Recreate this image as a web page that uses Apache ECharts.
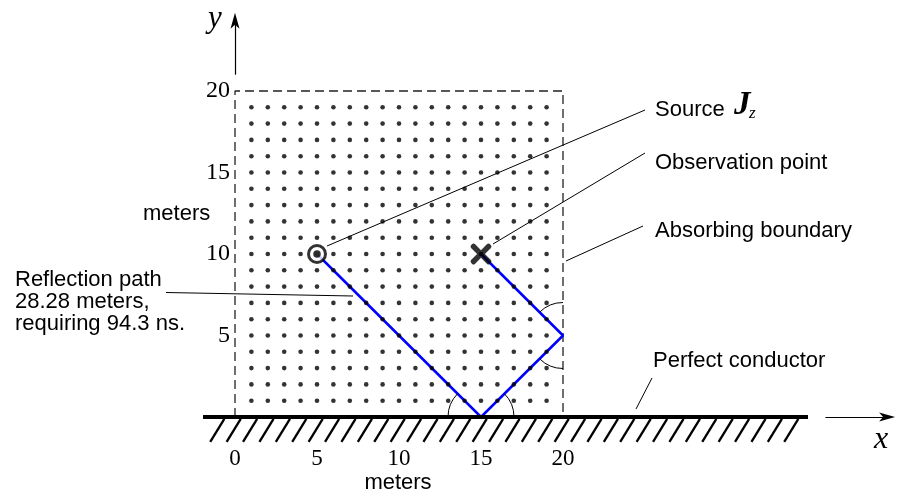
<!DOCTYPE html>
<html>
<head>
<meta charset="utf-8">
<script src="https://cdn.jsdelivr.net/npm/echarts@6/dist/echarts.min.js"></script>
<style>
  html, body { margin: 0; padding: 0; background: #fff; }
  #chart { width: 900px; height: 495px; }
</style>
</head>
<body>
<div id="chart"></div>
<script>
// Simulation grid sample positions (meters)
const gridCols = [1, 2, 3, 4, 5, 6, 7, 8, 9, 10, 11, 12, 13, 14, 15, 16, 17, 18, 19];
const gridRows = [1, 2, 3, 4, 5, 6, 7, 8, 9, 10, 11, 12, 13, 14, 15, 16, 17, 18, 19];

// Absorbing boundary of the computational region
const boundaryX = [0, 0, 20, 20];
const boundaryY = [0, 20, 20, 0];

// Reflection path: source -> conductor -> right boundary -> observation point
const pathX = [5, 15, 20, 15];
const pathY = [10, 0, 5, 10];

const sourcePoint = [5, 10];
const observationPoint = [15, 10];

// Axis tick labels
const xTickValues = [0, 5, 10, 15, 20];
const yTickValues = [5, 10, 15, 20];

// Ground plane and axis arrows (meters)
const groundExtent = [-1.95, 34.94];
const hatchStart = -0.65;
const hatchCount = 36;
const xArrowExtent = [36, 40.25];
const yArrowExtent = [21, 24.8];

// Path annotation values
const pathLengthMeters = 28.28;
const pathDelayNs = 94.3;

const SANS = 'Liberation Sans';
const SERIF = 'Liberation Serif';

const chart = echarts.init(document.getElementById('chart'), null, { renderer: 'canvas' });

const dots = [];
gridCols.forEach(x => gridRows.forEach(y => dots.push([x, y])));

const hatches = [];
for (let k = 0; k < hatchCount; k++) {
  const top = hatchStart + k;
  hatches.push({ coords: [[top, -0.12], [top - 0.86, -1.53]] });
}

const option = {
  animation: false,
  backgroundColor: '#fff',
  grid: { left: 235, top: 91, width: 328, height: 326, outerBoundsMode: 'none' },
  xAxis: {
    type: 'value', min: 0, max: 20, interval: 5,
    axisLine: { show: false }, axisTick: { show: false }, splitLine: { show: false },
    axisLabel: {
      customValues: xTickValues,
      fontFamily: SERIF, fontSize: 23, color: '#000',
      margin: 42, verticalAlign: 'middle'
    }
  },
  yAxis: {
    type: 'value', min: 0, max: 20, interval: 5,
    axisLine: { show: false }, axisTick: { show: false }, splitLine: { show: false },
    axisLabel: {
      customValues: yTickValues,
      fontFamily: SERIF, fontSize: 24, color: '#000', margin: 5
    }
  },
  series: [
    {
      type: 'line', data: boundaryX.map((x, i) => [x, boundaryY[i]]),
      symbol: 'none', clip: false, silent: true, z: 2,
      lineStyle: { color: '#222', width: 1.3, type: [9, 5] }
    },
    {
      type: 'line', data: pathX.map((x, i) => [x, pathY[i]]),
      symbol: 'none', clip: false, silent: true, z: 3,
      lineStyle: { color: '#0000ff', width: 2.5 }
    },
    {
      // grid sample points sit on top of the path
      type: 'scatter', data: dots, symbol: 'circle', symbolSize: 4.6,
      itemStyle: { color: '#000' }, silent: true, z: 4
    },
    {
      type: 'lines', coordinateSystem: 'cartesian2d', clip: false, silent: true, z: 4,
      data: [{ coords: [[groundExtent[0], 0], [groundExtent[1], 0]] }],
      lineStyle: { color: '#000', width: 3.8, opacity: 1 }
    },
    {
      type: 'lines', coordinateSystem: 'cartesian2d', clip: false, silent: true, z: 4,
      data: hatches,
      lineStyle: { color: '#000', width: 2.3, opacity: 1 }
    },
    {
      type: 'lines', coordinateSystem: 'cartesian2d', clip: false, silent: true, z: 4,
      data: [
        { coords: [[0, yArrowExtent[0]], [0, yArrowExtent[1] - 0.6]] },
        { coords: [[xArrowExtent[0], 0], [xArrowExtent[1] - 0.6, 0]] }
      ],
      lineStyle: { color: '#000', width: 1.2, opacity: 1 }
    },
    {
      type: 'scatter', data: [sourcePoint], symbol: 'circle', symbolSize: 17,
      itemStyle: { color: '#fff', borderColor: '#000', borderWidth: 3 }, silent: true, z: 5
    },
    {
      type: 'scatter', data: [sourcePoint], symbol: 'circle', symbolSize: 7.5,
      itemStyle: { color: '#000' }, silent: true, z: 6
    },
    {
      type: 'scatter', data: [observationPoint],
      symbol: 'path://M2,1 Q3,0 4.5,1 L10,6.5 L15.5,1 Q17,0 18,1 L19,2 Q20,3 19,4.5 L13.5,10 L19,15.5 Q20,17 19,18 L18,19 Q17,20 15.5,19 L10,13.5 L4.5,19 Q3,20 2,19 L1,18 Q0,17 1,15.5 L6.5,10 L1,4.5 Q0,3 1,2 Z',
      symbolSize: 21, itemStyle: { color: '#000' }, silent: true, z: 6
    }
  ]
};

chart.setOption(option);

const px = p => chart.convertToPixel({ gridIndex: 0 }, p);

function text(str, x, y, font, align) {
  return {
    type: 'text', silent: true, z: 10,
    style: { text: str, x: x, y: y, font: font, fill: '#000', textAlign: align || 'left', textVerticalAlign: 'middle' }
  };
}
function seg(a, b, w) {
  return {
    type: 'line', silent: true, z: 10,
    shape: { x1: a[0], y1: a[1], x2: b[0], y2: b[1] },
    style: { stroke: '#000', lineWidth: w || 1 }
  };
}
function arc(c, r, a0, a1) {
  return {
    type: 'arc', silent: true, z: 10,
    shape: { cx: c[0], cy: c[1], r: r, startAngle: a0, endAngle: a1, clockwise: true },
    style: { stroke: '#000', fill: null, lineWidth: 1 }
  };
}

const src = px(sourcePoint);
const obs = px(observationPoint);
const bounce = px([pathX[1], pathY[1]]);
const wall = px([pathX[2], pathY[2]]);
const yTip = px([0, yArrowExtent[1]]);
const xTip = px([xArrowExtent[1], 0]);
const PI = Math.PI;

const graphics = [
  // axis arrowheads
  { type: 'polygon', silent: true, z: 10,
    shape: { points: [[yTip[0], yTip[1]], [yTip[0] - 4.5, yTip[1] + 16], [yTip[0], yTip[1] + 12], [yTip[0] + 4.5, yTip[1] + 16]] },
    style: { fill: '#000' } },
  { type: 'polygon', silent: true, z: 10,
    shape: { points: [[xTip[0], xTip[1]], [xTip[0] - 16, xTip[1] - 4.5], [xTip[0] - 12, xTip[1]], [xTip[0] - 16, xTip[1] + 4.5]] },
    style: { fill: '#000' } },

  // axis names
  text('y', 215, 19, 'italic 31px "' + SERIF + '"', 'center'),
  text('x', 881, 440, 'italic 32px "' + SERIF + '"', 'center'),
  text('meters', 143, 214, '22px "' + SANS + '"'),
  text('meters', 398, 483, '22px "' + SANS + '"', 'center'),

  // angle-of-incidence arcs
  arc(bounce, 33, PI, 1.25 * PI),
  arc(bounce, 33, 1.75 * PI, 2 * PI),
  arc(wall, 33, 1.25 * PI, 1.5 * PI),
  arc(wall, 33, 0.5 * PI, 0.75 * PI),

  // annotations with leader lines
  seg([src[0] + 10, src[1] - 8], [645, 110]),
  text('Source', 655, 110, '22px "' + SANS + '"'),
  text('J', 734, 105, 'italic bold 33px "' + SERIF + '"'),
  text('z', 749, 114, 'italic 17px "' + SERIF + '"'),

  seg([obs[0] + 12, obs[1] - 10], [645, 153]),
  text('Observation point', 655, 163, '22px "' + SANS + '"'),

  seg([566, 261], [643, 226]),
  text('Absorbing boundary', 655, 231, '22px "' + SANS + '"'),

  seg([652, 378], [636, 409]),
  text('Perfect conductor', 653, 361, '22px "' + SANS + '"'),

  seg([166, 292.5], [353, 296]),
  text('Reflection path', 15, 280, '22px "' + SANS + '"'),
  text(pathLengthMeters.toFixed(2) + ' meters,', 15, 302, '22px "' + SANS + '"'),
  text('requiring ' + pathDelayNs + ' ns.', 15, 324, '22px "' + SANS + '"')
];

chart.setOption({ graphic: graphics });
</script>
</body>
</html>
